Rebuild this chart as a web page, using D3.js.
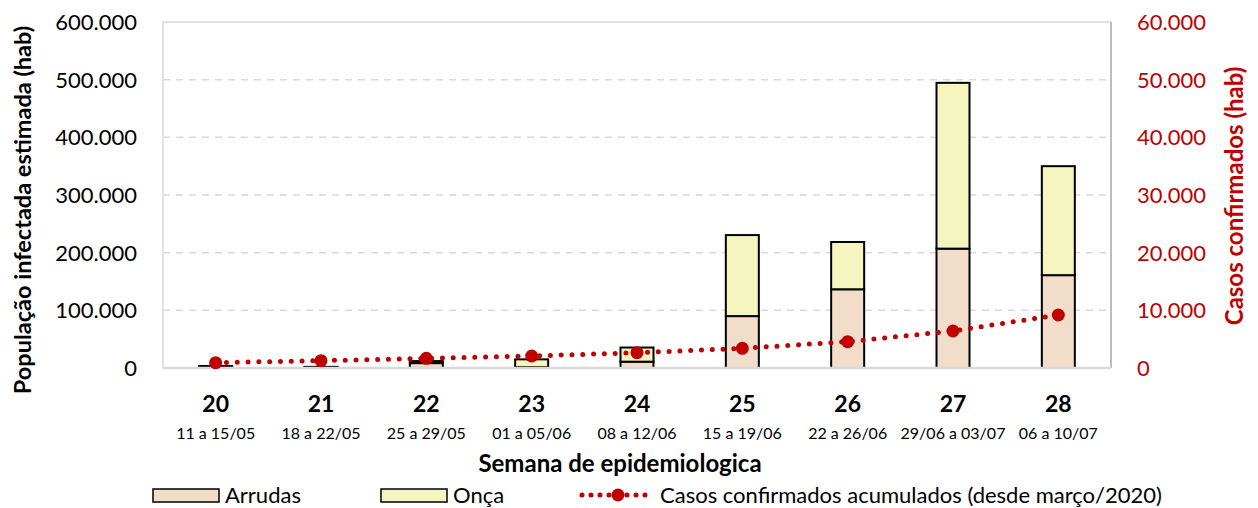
<html>
  <head>
    <script src="https://d3js.org/d3.v7.min.js"></script>
    <style>
      body { margin: 0; background: #fff; }
      svg { font-family: Lato, "Open Sans", sans-serif; }
    </style>
  </head>
  <body>
    <div id="root"></div>
  </body>
  <script>
// semanas epidemiologicas
var semanas = ["20", "21", "22", "23", "24", "25", "26", "27", "28"];
var periodos = ["11 a 15/05", "18 a 22/05", "25 a 29/05", "01 a 05/06", "08 a 12/06",
                "15 a 19/06", "22 a 26/06", "29/06 a 03/07", "06 a 10/07"];

// populacao infectada estimada (barras empilhadas)
var arrudas = [2000, 1500, 8500, 1500, 11000, 90000, 136500, 207000, 161000];
var onca    = [1500,  500, 3500, 13500, 24500, 140500, 82000, 287500, 189000];

// casos confirmados acumulados (eixo direito)
var casos = [920, 1270, 1680, 2080, 2650, 3410, 4560, 6420, 9190];

var yTicks = [0, 100000, 200000, 300000, 400000, 500000, 600000];
var y2Ticks = [0, 10000, 20000, 30000, 40000, 50000, 60000];

var W = 1258, H = 508;
var pLeft = 163, pRight = 1111, pTop = 22, pBottom = 368;
var vermelho = "#c00000";

var fmt = d3.formatLocale({decimal: ",", thousands: ".", grouping: [3], currency: ["R$", ""]}).format(",d");

var svg = d3.select("#root").append("svg")
  .attr("width", W)
  .attr("height", H);

var x = d3.scaleBand()
  .domain(semanas)
  .range([pLeft, pRight]);

var y = d3.scaleLinear()
  .domain([0, 600000])
  .range([pBottom, pTop]);

var y2 = d3.scaleLinear()
  .domain([0, 60000])
  .range([pBottom, pTop]);

var cx = d => x(d) + x.bandwidth() / 2;

/* grade */
svg.append("g")
  .selectAll("line")
  .data(yTicks.slice(1, -1)).enter()
  .append("line")
  .attr("x1", pLeft).attr("x2", pRight)
  .attr("y1", d => y(d)).attr("y2", d => y(d))
  .attr("stroke", "#d9d9d9")
  .attr("stroke-width", 1.5)
  .attr("stroke-dasharray", "7,6");

/* borda da area */
svg.append("line").attr("x1", pLeft).attr("x2", pRight).attr("y1", pTop).attr("y2", pTop)
  .attr("stroke", "#d9d9d9").attr("stroke-width", 1.5);
svg.append("line").attr("x1", pLeft).attr("x2", pLeft).attr("y1", pTop).attr("y2", pBottom)
  .attr("stroke", "#d9d9d9").attr("stroke-width", 1.5);
svg.append("line").attr("x1", pRight).attr("x2", pRight).attr("y1", pTop).attr("y2", pBottom)
  .attr("stroke", "#a6a6a6").attr("stroke-width", 1.5);

/* barras */
var barW = 33;
var bars = svg.append("g");
semanas.forEach(function(s, i) {
  bars.append("rect")
    .attr("x", cx(s) - barW / 2)
    .attr("y", y(arrudas[i]))
    .attr("width", barW)
    .attr("height", y(0) - y(arrudas[i]))
    .attr("fill", "#f2dcca")
    .attr("stroke", "#000")
    .attr("stroke-width", 2);
  bars.append("rect")
    .attr("x", cx(s) - barW / 2)
    .attr("y", y(arrudas[i] + onca[i]))
    .attr("width", barW)
    .attr("height", y(arrudas[i]) - y(arrudas[i] + onca[i]))
    .attr("fill", "#f5f5bf")
    .attr("stroke", "#000")
    .attr("stroke-width", 2);
});

/* eixo inferior */
svg.append("line").attr("x1", pLeft).attr("x2", pRight).attr("y1", pBottom).attr("y2", pBottom)
  .attr("stroke", "#d9d9d9").attr("stroke-width", 2.5);

/* linha casos */
var line = d3.line()
  .x((d, i) => cx(semanas[i]))
  .y(d => y2(d));

svg.append("path")
  .attr("d", line(casos))
  .attr("fill", "none")
  .attr("stroke", vermelho)
  .attr("stroke-width", 5)
  .attr("stroke-linecap", "round")
  .attr("stroke-dasharray", "0,10.8");

svg.append("g")
  .selectAll("circle")
  .data(casos).enter()
  .append("circle")
  .attr("cx", (d, i) => cx(semanas[i]))
  .attr("cy", d => y2(d))
  .attr("r", 6.5)
  .attr("fill", vermelho);

/* rotulos eixo y esquerdo */
svg.append("g")
  .selectAll("text")
  .data(yTicks).enter()
  .append("text")
  .attr("x", 137)
  .attr("y", d => y(d) + 8)
  .attr("text-anchor", "end")
  .attr("font-size", 22)
  .attr("fill", "#000")
  .text(d => fmt(d));

/* rotulos eixo y direito */
svg.append("g")
  .selectAll("text")
  .data(y2Ticks).enter()
  .append("text")
  .attr("x", 1137)
  .attr("y", d => y2(d) + 8)
  .attr("font-size", 22)
  .attr("fill", vermelho)
  .text(d => fmt(d));

/* rotulos categorias */
svg.append("g")
  .selectAll("text")
  .data(semanas).enter()
  .append("text")
  .attr("x", d => cx(d))
  .attr("y", 412)
  .attr("text-anchor", "middle")
  .attr("font-size", 23)
  .attr("font-weight", "bold")
  .text(d => d);

svg.append("g")
  .selectAll("text")
  .data(periodos).enter()
  .append("text")
  .attr("x", (d, i) => cx(semanas[i]))
  .attr("y", 439)
  .attr("text-anchor", "middle")
  .attr("font-size", 16)
  .text(d => d);

/* titulos dos eixos */
svg.append("text")
  .attr("x", 620).attr("y", 472)
  .attr("text-anchor", "middle")
  .attr("font-size", 24)
  .attr("font-weight", "bold")
  .text("Semana de epidemiologica");

svg.append("text")
  .attr("transform", "translate(31, 210) rotate(-90)")
  .attr("text-anchor", "middle")
  .attr("font-size", 23.5)
  .attr("font-weight", "bold")
  .text("População infectada estimada (hab)");

svg.append("text")
  .attr("transform", "translate(1243, 196) rotate(-90)")
  .attr("text-anchor", "middle")
  .attr("font-size", 24)
  .attr("font-weight", "bold")
  .attr("fill", vermelho)
  .text("Casos confirmados (hab)");

/* legenda */
var leg = svg.append("g").attr("font-size", 22);
leg.append("rect").attr("x", 153).attr("y", 489).attr("width", 66).attr("height", 13)
  .attr("fill", "#f2dcca").attr("stroke", "#000").attr("stroke-width", 1.5);
leg.append("text").attr("x", 225).attr("y", 503).text("Arrudas");
leg.append("rect").attr("x", 381).attr("y", 489).attr("width", 66).attr("height", 13)
  .attr("fill", "#f5f5bf").attr("stroke", "#000").attr("stroke-width", 1.5);
leg.append("text").attr("x", 453).attr("y", 503).text("Onça");
leg.append("line").attr("x1", 582).attr("x2", 654).attr("y1", 495).attr("y2", 495)
  .attr("stroke", vermelho).attr("stroke-width", 5)
  .attr("stroke-linecap", "round").attr("stroke-dasharray", "0,9");
leg.append("circle").attr("cx", 618).attr("cy", 495).attr("r", 6.5).attr("fill", vermelho);
leg.append("text").attr("x", 660).attr("y", 503).text("Casos confirmados acumulados (desde março/2020)");
  </script>
</html>
